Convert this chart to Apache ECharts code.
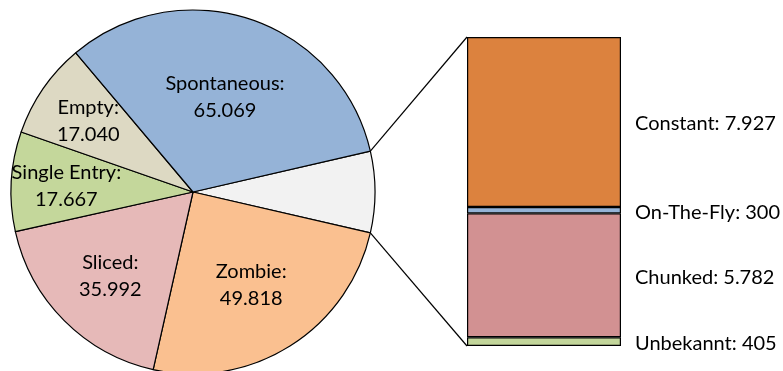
<!DOCTYPE html>
<html>
<head>
<meta charset="utf-8">
<script src="https://cdn.jsdelivr.net/npm/echarts@6/dist/echarts.min.js"></script>
<style>
  html, body { margin: 0; padding: 0; background: #fff; }
  #chart { width: 783px; height: 371px; }
</style>
</head>
<body>
<div id="chart"></div>
<script>
// Main pie categories (clockwise after the "other" slice)
const pieNames  = ['Zombie', 'Sliced', 'Single Entry', 'Empty', 'Spontaneous'];
const pieValues = [49818, 35992, 17667, 17040, 65069];
const pieColors = ['#FAC090', '#E6B9B8', '#C4D79B', '#DDD9C3', '#95B3D7'];
const otherColor = '#F2F2F2';

// Breakdown of the "other" slice, bottom to top in the stacked bar
const barNames  = ['Unbekannt', 'Chunked', 'On-The-Fly', 'Constant'];
const barValues = [405, 5782, 300, 7927];
const barColors = ['#C3D69B', '#D29192', '#95B3D7', '#DC823E'];

const FONT = 'Lato, "Open Sans", sans-serif';
const fmt = v => String(v).replace(/\B(?=(\d{3})+(?!\d))/g, '.');

const otherValue = barValues.reduce((a, b) => a + b, 0);
const total = otherValue + pieValues.reduce((a, b) => a + b, 0);
// Centre the "other" slice on the right-hand horizontal
const startAngle = 360 * otherValue / total / 2;

const PIE_CX = 193, PIE_CY = 192, PIE_R = 182;

const pieData = [{ name: 'other', value: otherValue, itemStyle: { color: otherColor }, label: { show: false } }]
  .concat(pieNames.map((n, i) => ({ name: n, value: pieValues[i], itemStyle: { color: pieColors[i] } })));

// Mid angles (degrees, maths convention) for label placement
const midAngles = [];
(function () {
  let a = startAngle;
  pieData.forEach(d => {
    const span = 360 * d.value / total;
    midAngles.push({ mid: a - span / 2, span: span });
    a -= span;
  });
})();

const chart = echarts.init(document.getElementById('chart'), null, { renderer: 'canvas' });

const option = {
  animation: false,
  backgroundColor: '#fff',
  grid: { left: 467, top: 37, width: 154, height: 309 },
  xAxis: { type: 'category', data: ['other'], show: false },
  yAxis: { type: 'value', min: 0, max: otherValue, show: false },
  series: [
    {
      type: 'pie',
      center: [PIE_CX, PIE_CY],
      radius: PIE_R,
      startAngle: startAngle,
      clockwise: true,
      avoidLabelOverlap: false,
      data: pieData,
      itemStyle: { borderColor: '#000', borderWidth: 1.2 },
      label: {
        show: true,
        position: 'inside',
        formatter: p => p.name + ':\n' + fmt(p.value),
        color: '#000',
        fontFamily: FONT,
        fontSize: 20,
        lineHeight: 27,
        align: 'center'
      },
      labelLine: { show: false },
      labelLayout: function (p) {
        const m = midAngles[p.dataIndex];
        if (!m) return {};
        const f = 0.55 + 0.2 * Math.max(0, 120 - m.span) / 120;
        const rad = m.mid * Math.PI / 180;
        return {
          x: PIE_CX + PIE_R * f * Math.cos(rad),
          y: PIE_CY - PIE_R * f * Math.sin(rad) + 1,
          align: 'center',
          verticalAlign: 'middle'
        };
      },
      emphasis: { disabled: true }
    }
  ].concat(barNames.map((n, i) => ({
    type: 'bar',
    name: n,
    stack: 'other',
    barWidth: '100%',
    data: [barValues[i]],
    itemStyle: { color: barColors[i], borderColor: '#000', borderWidth: 1.2 },
    label: {
      show: true,
      position: 'right',
      distance: 14,
      offset: [0, 2],
      formatter: n + ': ' + fmt(barValues[i]),
      color: '#000',
      fontFamily: FONT,
      fontSize: 20
    },
    emphasis: { disabled: true }
  })))
};

chart.setOption(option);

// Connector lines from the "other" slice edges to the bar's top-left and bottom-left corners
(function () {
  const lay = chart.getModel().getSeriesByIndex(0).getData().getItemLayout(0);
  const rect = chart.getModel().getComponent('grid', 0).coordinateSystem.getRect();
  const topY = chart.convertToPixel({ gridIndex: 0 }, [0, otherValue])[1];
  const botY = chart.convertToPixel({ gridIndex: 0 }, [0, 0])[1];
  const pt = a => [lay.cx + lay.r * Math.cos(a), lay.cy + lay.r * Math.sin(a)];
  const a1 = Math.min(lay.startAngle, lay.endAngle);
  const a2 = Math.max(lay.startAngle, lay.endAngle);
  const pUp = pt(a1), pDown = pt(a2);
  const style = { stroke: '#000', lineWidth: 1.2 };
  chart.setOption({
    graphic: [
      { type: 'line', shape: { x1: pUp[0], y1: pUp[1], x2: rect.x, y2: topY }, style: style, silent: true },
      { type: 'line', shape: { x1: pDown[0], y1: pDown[1], x2: rect.x, y2: botY }, style: style, silent: true }
    ]
  });
})();
</script>
</body>
</html>
